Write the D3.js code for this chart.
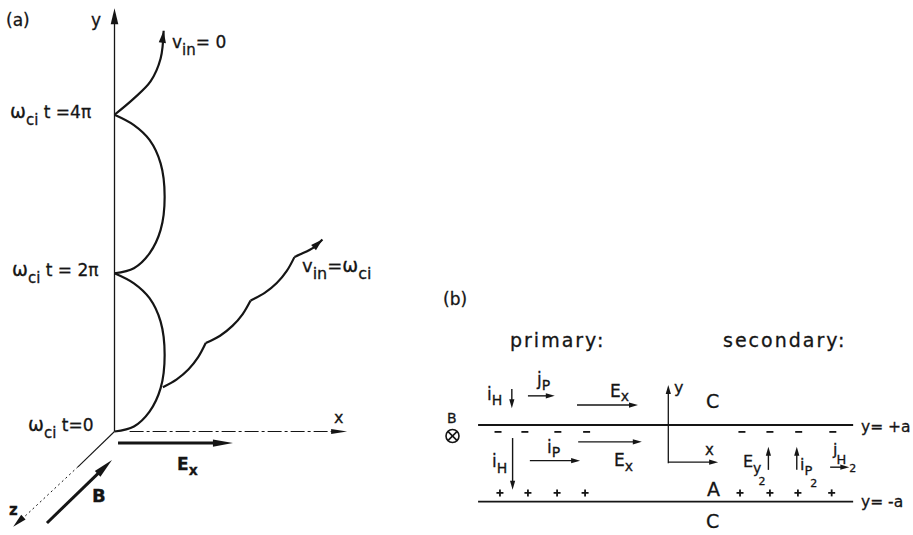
<!DOCTYPE html>
<html>
<head>
<meta charset="utf-8">
<script src="https://cdn.jsdelivr.net/npm/d3@7"></script>
<style>
  body { margin: 0; background: #fff; }
  text { font-family: "DejaVu Sans", sans-serif; fill: #151515; stroke: #151515; stroke-width: 0.3px; }
</style>
</head>
<body>
<div id="chart-area"></div>
<script>
// ---- panel (a): ion orbits, x and y in units of the gyro radius ----
var cuspValues = [0, 6.28, 12.57];
var cuspLabels = [" t=0", " t = 2π", " t =4π"];

// v_in = 0 : cycloid arches between the cusps
var arch1 = [[0, 0], [0.77, 0.2], [1.39, 0.79], [1.83, 1.72], [1.99, 3.04], [1.83, 4.36], [1.39, 5.29], [0.77, 5.88], [0, 6.28]];
var arch2 = [[0, 6.28], [0.77, 6.48], [1.39, 7.07], [1.83, 8.0], [1.99, 9.32], [1.83, 10.64], [1.39, 11.57], [0.77, 12.16], [0, 12.57]];
var arch3 = [[0, 12.57], [0.75, 13.2], [1.43, 13.89], [1.83, 14.8], [1.95, 15.9]];

// v_in = w_ci : small loops drifting off to the upper right
var drift1 = [[1.92, 1.76], [2.47, 2.07], [2.94, 2.47], [3.32, 2.95], [3.62, 3.51]];
var drift2 = [[3.62, 3.51], [4.19, 3.80], [4.68, 4.19], [5.08, 4.65], [5.40, 5.20]];
var drift3 = [[5.40, 5.20], [5.96, 5.50], [6.44, 5.89], [6.83, 6.36], [7.14, 6.92]];
var drift4 = [[7.14, 6.92], [7.35, 7.02], [7.9, 7.3], [8.25, 7.62]];

// ---- panel (b): slab between y=-a and y=+a, x,y in units of a ----
var minusX = [-4.44, -3.74, -2.88, -2.13, 1.92, 2.65, 3.40, 4.29];
var plusX = [-4.39, -3.66, -2.90, -2.17, 1.87, 2.65, 3.38, 4.26];
var wallY = [1, -1];
var currentArrows = [
  [-4.08, 1.94, -4.08, 1.44],   // i_H primary, outside
  [-3.66, 1.76, -2.96, 1.76],   // j_P
  [-2.38, 1.52, -0.79, 1.52],   // E_x
  [-4.06, 0.66, -4.06, -0.69],  // i_H inside
  [-3.61, 0.07, -2.30, 0.07],   // i_P
  [-2.35, 0.56, -0.69, 0.56],   // E_x inside
  [2.61, -0.17, 2.61, 0.43],    // E_y2
  [3.35, -0.17, 3.35, 0.43],    // i_P2
  [4.22, -0.10, 4.72, -0.10]    // j_H2
];

var width = 913, height = 535;
var ink = "#151515";

var svg = d3.select("#chart-area").append("svg")
    .attr("width", width)
    .attr("height", height);

var xa = d3.scaleLinear().domain([0, 10]).range([114.5, 366.5]);
var ya = d3.scaleLinear().domain([0, 16]).range([431.5, 28.3]);

var xb = d3.scaleLinear().domain([0, 1]).range([668.3, 706.65]);
var yb = d3.scaleLinear().domain([0, 1]).range([463.35, 425]);

// straight arrow with a filled head at (x2,y2)
function arrow(g, x1, y1, x2, y2, sw, len, half) {
  var dx = x2 - x1, dy = y2 - y1, d = Math.sqrt(dx * dx + dy * dy);
  var ux = dx / d, uy = dy / d;
  g.append("line")
      .attr("x1", x1).attr("y1", y1)
      .attr("x2", x2 - ux * len * 0.8).attr("y2", y2 - uy * len * 0.8)
      .attr("stroke", ink).attr("stroke-width", sw);
  head(g, x2, y2, ux, uy, len, half);
}
function head(g, x, y, ux, uy, len, half) {
  var bx = x - ux * len, by = y - uy * len;
  g.append("path")
      .attr("d", "M" + x + "," + y + "L" + (bx - uy * half) + "," + (by + ux * half) +
                 "L" + (bx + uy * half) + "," + (by - ux * half) + "Z")
      .attr("fill", ink);
}

// text with sub/superscripts: parts = [text, shift down, size, dx]
function rich(g, x, y, parts, size, weight) {
  var t = g.append("text").attr("x", x).attr("y", y).attr("font-size", size);
  if (weight) t.attr("font-weight", weight);
  var cur = 0;
  parts.forEach(function (p) {
    var sh = p[1] || 0;
    var ts = t.append("tspan").attr("dy", sh - cur).attr("font-size", p[2] || size).text(p[0]);
    if (p[3]) ts.attr("dx", p[3]);
    cur = sh;
  });
  return t;
}

// ================= panel (a) =================
var ga = svg.append("g");

// y axis
arrow(ga, xa(0), ya(0), xa(0), ya(16.8), 1.3, 16, 3.8);
// x axis (dash-dot)
ga.append("line")
    .attr("x1", xa(0.6)).attr("y1", ya(0)).attr("x2", xa(8.9)).attr("y2", ya(0))
    .attr("stroke", ink).attr("stroke-width", 1).attr("stroke-dasharray", "14,3,3,3");
head(ga, xa(9.23), ya(0), 1, 0, 16, 2.6);
// z axis: solid near origin then dotted
ga.append("line")
    .attr("x1", xa(0)).attr("y1", ya(0)).attr("x2", xa(-1.45)).attr("y2", ya(-1.4))
    .attr("stroke", ink).attr("stroke-width", 1.1);
ga.append("line")
    .attr("x1", xa(-1.45)).attr("y1", ya(-1.4)).attr("x2", xa(-3.7)).attr("y2", ya(-3.5))
    .attr("stroke", ink).attr("stroke-width", 1).attr("stroke-dasharray", "2,3");
(function () {
  var dx = xa(-4.02) - xa(0), dy = ya(-3.78) - ya(0), d = Math.sqrt(dx * dx + dy * dy);
  head(ga, xa(-4.02), ya(-3.78), dx / d, dy / d, 14, 3.2);
})();

// E_x and B arrows
arrow(ga, xa(0.14), ya(-0.46), xa(4.70), ya(-0.46), 3, 20, 3.6);
arrow(ga, xa(-2.68), ya(-3.63), xa(-0.1), ya(-1.13), 3, 20, 4);

// orbits
var orbit = d3.line()
    .x(function (d) { return xa(d[0]); })
    .y(function (d) { return ya(d[1]); })
    .curve(d3.curveCatmullRom.alpha(0.5));

[arch1, arch2, arch3, drift1, drift2, drift3, drift4].forEach(function (pts) {
  ga.append("path")
      .attr("d", orbit(pts))
      .attr("fill", "none")
      .attr("stroke", ink)
      .attr("stroke-width", 2.2);
});
// arrow heads at the ends of both orbits
[arch3, drift4].forEach(function (pts) {
  var a = pts[pts.length - 2], b = pts[pts.length - 1];
  var dx = xa(b[0]) - xa(a[0]), dy = ya(b[1]) - ya(a[1]), d = Math.sqrt(dx * dx + dy * dy);
  head(ga, xa(b[0]), ya(b[1]), dx / d, dy / d, 12, 3.6);
});

// labels
ga.append("text").attr("x", 6).attr("y", 26).attr("font-size", 17).text("(a)");
ga.append("text").attr("x", 91).attr("y", 26).attr("font-size", 17).text("y");
var cuspX = [28, 12, 10];
cuspValues.forEach(function (v, i) {
  rich(ga, cuspX[i], ya(v) + (i === 0 ? -0.5 : 3),
       [["ω", 0, 19], ["ci", 7, 15], [cuspLabels[i], 0, 17]], 17);
});
rich(ga, 172, 48, [["v", 0, 17], ["in", 7, 15], ["= 0", 0, 17]], 17);
rich(ga, 302, 272, [["v", 0, 18], ["in", 7, 16], ["=", 0, 18], ["ω", 0, 19], ["ci", 7, 16]], 18);
ga.append("text").attr("x", 334).attr("y", 423).attr("font-size", 16).text("x");
rich(ga, 177, 470, [["E", 0, 17], ["x", 5, 14]], 17, "bold");
ga.append("text").attr("x", 92).attr("y", 502).attr("font-size", 18).attr("font-weight", "bold").text("B");
ga.append("text").attr("x", 9).attr("y", 515).attr("font-size", 15).attr("font-weight", "bold").text("z");

// ================= panel (b) =================
var gb = svg.append("g");

wallY.forEach(function (w) {
  gb.append("line")
      .attr("x1", xb(-4.96)).attr("y1", yb(w)).attr("x2", xb(4.82)).attr("y2", yb(w))
      .attr("stroke", ink).attr("stroke-width", 1.8);
});

gb.selectAll(".minus").data(minusX).enter().append("line")
    .attr("class", "minus")
    .attr("x1", function (d) { return xb(d) - 3.5; })
    .attr("x2", function (d) { return xb(d) + 3.5; })
    .attr("y1", yb(0.82)).attr("y2", yb(0.82))
    .attr("stroke", ink).attr("stroke-width", 1.8);

var plus = gb.selectAll(".plus").data(plusX).enter().append("g")
    .attr("class", "plus")
    .attr("transform", function (d) { return "translate(" + xb(d) + "," + yb(-0.77) + ")"; });
plus.append("line").attr("x1", -3.5).attr("x2", 3.5).attr("stroke", ink).attr("stroke-width", 1.8);
plus.append("line").attr("y1", -3.5).attr("y2", 3.5).attr("stroke", ink).attr("stroke-width", 1.8);

currentArrows.forEach(function (a) {
  arrow(gb, xb(a[0]), yb(a[1]), xb(a[2]), yb(a[3]), 1.4, 9, 2.6);
});

// small coordinate axes at A
arrow(gb, xb(0), yb(0), xb(0), yb(2.04), 1.3, 9, 2.6);
arrow(gb, xb(0), yb(0.03), xb(1.3), yb(0.03), 1.3, 9, 2.6);

// B into the page
var bx = 452.5, by = 436, br = 6.5;
gb.append("circle").attr("cx", bx).attr("cy", by).attr("r", br)
    .attr("fill", "none").attr("stroke", ink).attr("stroke-width", 1.6);
gb.append("line").attr("x1", bx - 4.6).attr("y1", by - 4.6).attr("x2", bx + 4.6).attr("y2", by + 4.6)
    .attr("stroke", ink).attr("stroke-width", 1.6);
gb.append("line").attr("x1", bx - 4.6).attr("y1", by + 4.6).attr("x2", bx + 4.6).attr("y2", by - 4.6)
    .attr("stroke", ink).attr("stroke-width", 1.6);
gb.append("text").attr("x", 447).attr("y", 423).attr("font-size", 14).text("B");

gb.append("text").attr("x", 443).attr("y", 305).attr("font-size", 17).text("(b)");
gb.append("text").attr("x", 510).attr("y", 347).attr("font-size", 19)
    .attr("letter-spacing", 2).text("primary:");
gb.append("text").attr("x", 723).attr("y", 347).attr("font-size", 19)
    .attr("letter-spacing", 2).text("secondary:");

rich(gb, 487, 400, [["i", 0, 17], ["H", 5, 14]], 17);
rich(gb, 537, 385, [["j", 0, 17], ["P", 5, 14]], 17);
rich(gb, 610, 397, [["E", 0, 17], ["x", 4, 14]], 17);
rich(gb, 492, 467, [["i", 0, 17], ["H", 6, 14]], 17);
rich(gb, 547, 453, [["i", 0, 17], ["P", 4, 14]], 17);
rich(gb, 614, 466, [["E", 0, 17], ["x", 5, 14]], 17);
gb.append("text").attr("x", 674).attr("y", 393).attr("font-size", 16).text("y");
gb.append("text").attr("x", 705).attr("y", 455).attr("font-size", 15).text("x");
gb.append("text").attr("x", 706).attr("y", 408).attr("font-size", 19).text("C");
gb.append("text").attr("x", 707).attr("y", 496).attr("font-size", 19).text("A");
gb.append("text").attr("x", 706).attr("y", 528).attr("font-size", 19).text("C");
rich(gb, 743, 467, [["E", 0, 16], ["y", 6, 14], ["2", 18, 11, -3]], 16);
rich(gb, 800, 470, [["i", 0, 16], ["P", 5, 13], ["2", 17, 11, -2]], 16);
rich(gb, 833, 455, [["j", 0, 16], ["H", 9, 13, -1], ["2", 17, 11, 3]], 16);
gb.append("text").attr("x", 861).attr("y", 432).attr("font-size", 15.5).text("y= +a");
gb.append("text").attr("x", 861).attr("y", 507).attr("font-size", 15.5).text("y= -a");
</script>
</body>
</html>
